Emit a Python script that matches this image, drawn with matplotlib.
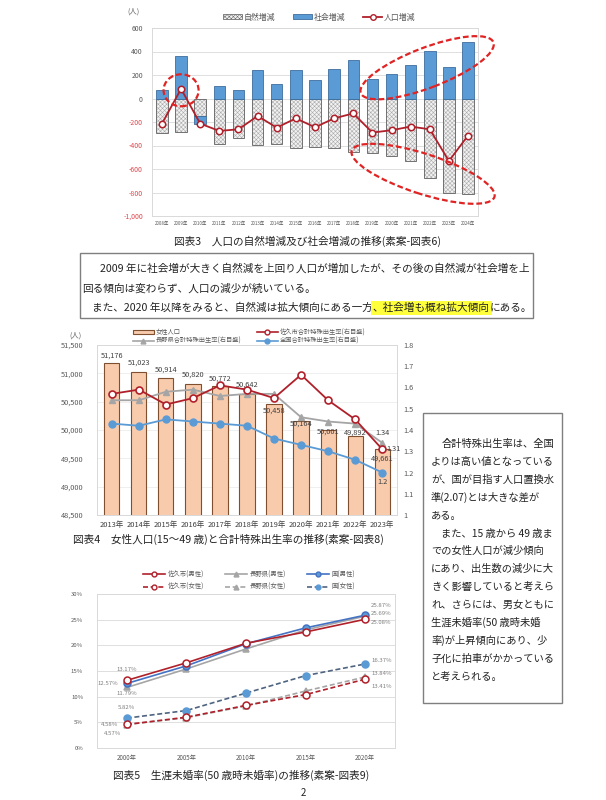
import matplotlib
matplotlib.use("Agg")
import matplotlib.pyplot as plt
import numpy as np
from matplotlib.patches import Ellipse, Rectangle, Patch
from matplotlib.lines import Line2D
from matplotlib.transforms import IdentityTransform

plt.rcParams['font.family'] = ['Noto Sans CJK JP', 'DejaVu Sans']
plt.rcParams['hatch.linewidth'] = 0.4
plt.rcParams['axes.unicode_minus'] = False

# ---------------- Data ----------------
years1 = list(range(2008, 2025))
year_labels1 = [f"{y}年" for y in years1]
natural_change = [-290, -281, -150, -383, -332, -394, -383, -425, -411, -425,
                  -459, -464, -487, -534, -675, -802, -810]
social_change = [76, 363, -64, 110, 70, 245, 127, 245, 160, 250,
                 326, 166, 208, 287, 408, 267, 484]
population_change = [-214, 82, -214, -276, -262, -149, -248, -169, -245, -169,
                     -127, -290, -270, -239, -262, -532, -315]

years2 = [f"{y}年" for y in range(2013, 2024)]
female_pop = [51176, 51023, 50914, 50820, 50772, 50642, 50458, 50164, 50001, 49892, 49661]
tfr_saku = [1.57, 1.59, 1.52, 1.55, 1.61, 1.59, 1.55, 1.66, 1.54, 1.45, 1.31]
tfr_nagano = [1.54, 1.54, 1.58, 1.59, 1.56, 1.57, 1.57, 1.46, 1.44, 1.43, 1.34]
tfr_japan = [1.43, 1.42, 1.45, 1.44, 1.43, 1.42, 1.36, 1.33, 1.30, 1.26, 1.20]

years3 = ["2000年", "2005年", "2010年", "2015年", "2020年"]
saku_m = [13.17, 16.6, 20.4, 22.6, 25.08]
nagano_m = [11.79, 15.4, 19.3, 23.0, 25.69]
japan_m = [12.57, 16.0, 20.3, 23.4, 25.87]
saku_f = [4.58, 6.0, 8.3, 10.4, 13.41]
nagano_f = [4.57, 5.9, 8.2, 11.1, 13.84]
japan_f = [5.82, 7.3, 10.7, 14.1, 16.37]

# ---------------- Figure helpers ----------------
W, H = 606, 800
DPI = 100
fig = plt.figure(figsize=(W / DPI, H / DPI), dpi=DPI)
fig.patch.set_facecolor('white')


def fx(x):
    return x / W


def fy(y):
    return 1 - y / H


def rect(l, t, r, b):
    return [l / W, 1 - b / H, (r - l) / W, (b - t) / H]


PX = 0.72  # pixel -> point
GRID = '#D9D9D9'
TXT = '#595959'
RED = '#B0202A'
BLUE = '#5B9BD5'
GREY = '#A5A5A5'
BODY_FS = 7.4
CAP_FS = 7.65
BODY_C = '#222222'
DASH = (0, (3, 1.6))


def style_axes(ax, color=GRID):
    for s in ax.spines.values():
        s.set_color(color)
        s.set_linewidth(0.7)
    ax.tick_params(length=0)


# ================= Chart 1 =================
ax1 = fig.add_axes(rect(152, 28, 478, 216))
x1 = np.arange(len(years1))
nat = np.array(natural_change, float)
soc = np.array(social_change, float)
soc_bottom = np.where(soc < 0, np.minimum(nat, 0), 0)
ax1.bar(x1, nat, 0.6, color='#F2F2F2', edgecolor='#ABABAB', hatch='xxxxxxxx', lw=0, zorder=2)
ax1.bar(x1, nat, 0.6, fill=False, edgecolor='#707070', lw=0.7, zorder=3)
ax1.bar(x1, soc, 0.6, bottom=soc_bottom, color=BLUE, edgecolor='#3D6D9C', lw=0.6, zorder=3)
ax1.plot(x1, population_change, color=RED, lw=1.3, marker='o', ms=4.6,
         mfc='white', mec=RED, mew=1.1, zorder=5)
ax1.set_xlim(-0.52, len(years1) - 0.48)
ax1.set_ylim(-1000, 600)
yt1 = np.arange(-1000, 601, 200)
ax1.set_yticks(yt1)
ax1.set_yticklabels([f"{v:,}" for v in yt1], fontsize=5.0)
for lab, v in zip(ax1.get_yticklabels(), yt1):
    lab.set_color('#E0474C' if v < 0 else TXT)
ax1.set_xticks(x1)
ax1.set_xticklabels(year_labels1, fontsize=3.2, color=TXT)
ax1.tick_params(axis='y', pad=6.5)
ax1.tick_params(axis='x', pad=3.5)
ax1.grid(axis='y', color=GRID, lw=0.6)
ax1.set_axisbelow(True)
style_axes(ax1)
fig.text(fx(133), fy(12), "(人)", fontsize=5.3, color=TXT, ha='center', va='center')


def data_ellipse(ax, xd, yd, w, h, ang):
    cx, cy = ax.transData.transform((xd, yd))
    e = Ellipse((cx, cy), w, h, angle=ang, transform=IdentityTransform(), fill=False,
                ec='#E02424', lw=1.6, ls=(0, (2.6, 1.3)), zorder=10)
    fig.add_artist(e)


data_ellipse(ax1, 1.0, 70, 35, 32, 0)
data_ellipse(ax1, 13.86, 262, 142, 40, 21)
data_ellipse(ax1, 13.65, -641, 150, 40, -18)

h_nat = Patch(facecolor='#F2F2F2', edgecolor='#707070', hatch='xxxxxxxx', lw=0.6)
h_soc = Patch(facecolor=BLUE, edgecolor='#3D6D9C', lw=0.6)
h_pop = Line2D([], [], color=RED, lw=1.3, marker='o', ms=4, mfc='white', mec=RED, mew=1)
fig.legend([h_nat, h_soc, h_pop], ['自然増減', '社会増減', '人口増減'], loc='center',
           bbox_to_anchor=(fx(319), fy(17)), ncol=3, frameon=False, fontsize=5.7,
           handlelength=2.4, handleheight=0.6, handletextpad=0.2, columnspacing=2.3,
           borderpad=0, borderaxespad=0, labelcolor=TXT)

fig.text(fx(307), fy(241), "図表3　人口の自然増減及び社会増減の推移(素案-図表6)",
         fontsize=CAP_FS, color=BODY_C, ha='center', va='center')

# ---------------- Text box 1 ----------------
fig.add_artist(Rectangle((fx(80), fy(318)), (533 - 80) / W, (318 - 253) / H,
                         transform=fig.transFigure, fill=False, ec='#7F7F7F', lw=1.0))
renderer = fig.canvas.get_renderer()


def body(x, y, s, fs=BODY_FS, **kw):
    return fig.text(fx(x), fy(y), s, fontsize=fs, color=BODY_C, ha='left', va='baseline', **kw)


body(100, 272, "2009 年に社会増が大きく自然減を上回り人口が増加したが、その後の自然減が社会増を上", CAP_FS)
body(82, 292, "回る傾向は変わらず、人口の減少が続いている。", CAP_FS)
t1 = body(92, 311, "また、2020 年以降をみると、自然減は拡大傾向にある一方", CAP_FS)
bb = t1.get_window_extent(renderer)
t2 = fig.text(bb.x1 / W, fy(311), "、社会増も概ね拡大傾向", fontsize=CAP_FS, color=BODY_C,
              ha='left', va='baseline', bbox=dict(fc='#FFFF3B', ec='none', pad=1.3))
bb2 = t2.get_window_extent(renderer)
fig.text(bb2.x1 / W, fy(311), "にある。", fontsize=CAP_FS, color=BODY_C, ha='left', va='baseline')

# ================= Chart 2 =================
ax2 = fig.add_axes(rect(97, 345, 397, 515))
x2 = np.arange(len(years2))
ax2.bar(x2, female_pop, 0.56, color='#F8CBAD', edgecolor='#7F4F2F', lw=0.8, zorder=2)
ax2.set_xlim(-0.55, len(years2) - 0.45)
ax2.set_ylim(48500, 51500)
yt2 = np.arange(48500, 51501, 500)
ax2.set_yticks(yt2)
ax2.set_yticklabels([f"{v:,}" for v in yt2], fontsize=5.3, color=TXT)
ax2.set_xticks(x2)
ax2.set_xticklabels(years2, fontsize=5.4, color='#404040')
ax2.tick_params(axis='y', pad=10)
ax2.tick_params(axis='x', pad=4.3)
ax2.grid(axis='y', color='#EDEDED', lw=0.6)
ax2.set_axisbelow(True)
style_axes(ax2)
pop_label_dy = [8, 9, 9, 8.6, 8, 8.7, -7, -2.5, -2, 3.5, -9]
for i, v in enumerate(female_pop):
    ax2.annotate(f"{v:,}", (i, v), xytext=(0, pop_label_dy[i] * PX), textcoords='offset points',
                 ha='center', va='center', fontsize=5.3, color='#404040', zorder=6)

ax2r = ax2.twinx()
ax2r.set_ylim(1.0, 1.8)
yt2r = np.round(np.arange(1.0, 1.81, 0.1), 1)
ax2r.set_yticks(yt2r)
ax2r.set_yticklabels([f"{v:g}" for v in yt2r], fontsize=5.3, color=TXT)
ax2r.tick_params(axis='y', pad=4.5)
style_axes(ax2r)
ax2r.plot(x2, tfr_japan, color=BLUE, lw=1.3, marker='o', ms=5, mfc=BLUE, mec=BLUE, zorder=3)
ax2r.plot(x2, tfr_nagano, color=GREY, lw=1.3, marker='^', ms=5, mfc=GREY, mec=GREY, zorder=4)
ax2r.plot(x2, tfr_saku, color=RED, lw=1.3, marker='o', ms=5, mfc='white', mec=RED, mew=1.2, zorder=5)
n = len(years2) - 1
ax2r.annotate(f"{tfr_nagano[n]:g}", (n, tfr_nagano[n]), xytext=(0, 10 * PX), textcoords='offset points',
              ha='center', va='center', fontsize=5.3, color='#404040')
ax2r.annotate(f"{tfr_saku[n]:g}", (n, tfr_saku[n]), xytext=(4 * PX, 0), textcoords='offset points',
              ha='left', va='center', fontsize=5.3, color='#404040')
ax2r.annotate(f"{tfr_japan[n]:g}", (n, tfr_japan[n]), xytext=(0, -10 * PX), textcoords='offset points',
              ha='center', va='center', fontsize=5.3, color='#404040')
fig.text(fx(75), fy(336), "(人)", fontsize=5.3, color=TXT, ha='center', va='center')

h_fp = Patch(facecolor='#F8CBAD', edgecolor='#7F4F2F', lw=0.8)
h_ng = Line2D([], [], color=GREY, lw=1.2, marker='^', ms=3.5, mfc=GREY, mec=GREY)
h_sk = Line2D([], [], color=RED, lw=1.2, marker='o', ms=3.5, mfc='white', mec=RED, mew=1)
h_jp = Line2D([], [], color=BLUE, lw=1.2, marker='o', ms=3.5, mfc=BLUE, mec=BLUE)
fig.legend([h_fp, h_ng, h_sk, h_jp],
           ['女性人口', '長野県合計特殊出生率(右目盛)', '佐久市合計特殊出生率(右目盛)', '全国合計特殊出生率(右目盛)'],
           loc='center', bbox_to_anchor=(fx(249), fy(336.5)), ncol=2, frameon=False, fontsize=4.5,
           handlelength=3.4, handleheight=0.6, handletextpad=0.3, columnspacing=2.4, labelspacing=0.1,
           borderpad=0, borderaxespad=0, labelcolor=TXT)

fig.text(fx(228), fy(539), "図表4　女性人口(15～49 歳)と合計特殊出生率の推移(素案-図表8)",
         fontsize=CAP_FS, color=BODY_C, ha='center', va='center')

# ---------------- Right text box ----------------
fig.add_artist(Rectangle((fx(423), fy(703)), (562 - 423) / W, (703 - 413) / H,
                         transform=fig.transFigure, fill=False, ec='#7F7F7F', lw=1.0))
side_lines = [
    (1, "合計特殊出生率は、全国"),
    (0, "よりは高い値となっている"),
    (0, "が、国が目指す人口置換水"),
    (0, "準(2.07)とは大きな差が"),
    (0, "ある。"),
    (1, "また、15 歳から 49 歳ま"),
    (0, "での女性人口が減少傾向"),
    (0, "にあり、出生数の減少に大"),
    (0, "きく影響していると考えら"),
    (0, "れ、さらには、男女ともに"),
    (0, "生涯未婚率(50 歳時未婚"),
    (0, "率)が上昇傾向にあり、少"),
    (0, "子化に拍車がかかっている"),
    (0, "と考えられる。"),
]
for i, (ind, s) in enumerate(side_lines):
    body(431 + ind * 10.3, 447 + 17.9 * i, s)

# ================= Chart 3 =================
ax3 = fig.add_axes(rect(97, 594, 395, 748))
x3 = np.arange(len(years3))
ax3.set_xlim(-0.5, len(years3) - 0.5)
ax3.set_ylim(0, 30)
ax3.set_yticks(range(0, 31, 5))
ax3.set_yticklabels([f"{v}%" for v in range(0, 31, 5)], fontsize=4.3, color=TXT)
ax3.set_xticks(x3)
ax3.set_xticklabels(years3, fontsize=4.5, color=TXT)
ax3.tick_params(axis='y', pad=10)
ax3.tick_params(axis='x', pad=4.3)
ax3.grid(axis='y', color=GRID, lw=0.6)
ax3.set_axisbelow(True)
style_axes(ax3)

JM = '#4472C4'
JF = '#4F6480'
series3 = [
    (saku_m, dict(color=RED, ls='-', marker='o', mfc='white', mec=RED), '佐久市(男性)', 6),
    (saku_f, dict(color=RED, ls=DASH, marker='o', mfc='white', mec=RED), '佐久市(女性)', 5),
    (nagano_m, dict(color=GREY, ls='-', marker='^', mfc=GREY, mec=GREY), '長野県(男性)', 3),
    (nagano_f, dict(color=GREY, ls=DASH, marker='^', mfc=GREY, mec=GREY), '長野県(女性)', 4),
    (japan_m, dict(color=JM, ls='-', marker='o', mfc=BLUE, mec=JM), '国(男性)', 5),
    (japan_f, dict(color=JF, ls=DASH, marker='o', mfc=BLUE, mec=BLUE), '国(女性)', 3),
]
handles3 = []
for vals, st, lab, z in series3:
    ax3.plot(x3, vals, lw=1.2, ms=5, mew=1.1, zorder=z, **st)
    handles3.append(Line2D([], [], lw=1.2, ms=3.5, mew=1, **st))

lab_c = '#7F7F7F'
lab_fs = 4.3


def plab(vals, idx, dx, dy, ha):
    ax3.annotate(f"{vals[idx]:.2f}%", (idx, vals[idx]), xytext=(dx * PX, dy * PX), textcoords='offset points',
                 ha=ha, va='center', fontsize=lab_fs, color=lab_c, zorder=8)


plab(saku_m, 0, 0, 11, 'center')
plab(japan_m, 0, -9, 0, 'right')
plab(nagano_m, 0, 0, -6, 'center')
plab(japan_f, 0, 0, 11, 'center')
plab(saku_f, 0, -9, 0, 'right')
plab(nagano_f, 0, -6, -8.5, 'right')
plab(japan_m, 4, 6, 10, 'left')
plab(nagano_m, 4, 6, 3, 'left')
plab(saku_m, 4, 6, -3, 'left')
plab(japan_f, 4, 6, 3, 'left')
plab(nagano_f, 4, 6, 3, 'left')
plab(saku_f, 4, 6, -7, 'left')

fig.legend(handles3, [s[2] for s in series3], loc='center', bbox_to_anchor=(fx(249), fy(580.5)),
           ncol=3, frameon=False, fontsize=4.6, handlelength=3.4, handletextpad=0.4,
           columnspacing=3.3, labelspacing=0.75, borderpad=0, borderaxespad=0, labelcolor=TXT)

fig.text(fx(241), fy(775), "図表5　生涯未婚率(50 歳時未婚率)の推移(素案-図表9)",
         fontsize=CAP_FS, color=BODY_C, ha='center', va='center')
fig.text(fx(303), fy(793), "2", fontsize=7, color=BODY_C, ha='center', va='center')

fig.savefig("out.png", dpi=DPI, facecolor='white')
